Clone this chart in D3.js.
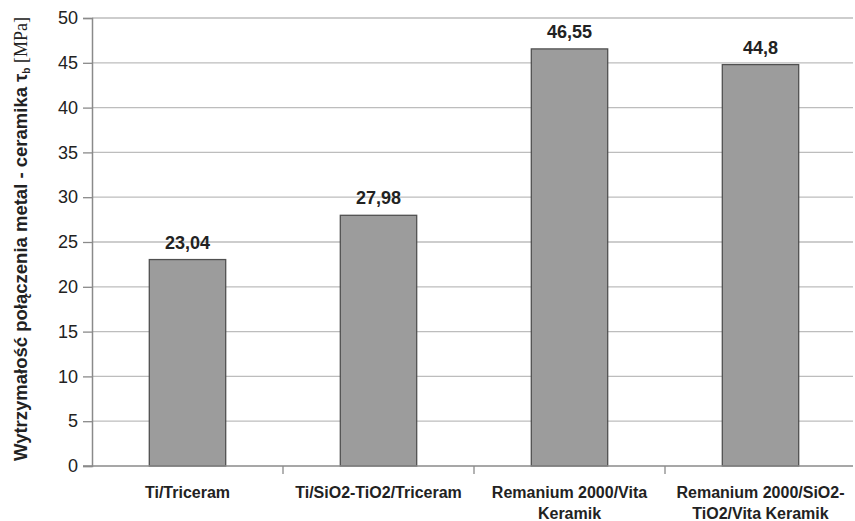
<!DOCTYPE html>
<html><head><meta charset="utf-8">
<script src="https://cdn.jsdelivr.net/npm/d3@7"></script>
<style>body{margin:0;background:#fff}svg{display:block}</style>
</head><body>
<svg id="c" width="855" height="521"></svg>
<script>
const categories = [
  ["Ti/Triceram"],
  ["Ti/SiO2-TiO2/Triceram"],
  ["Remanium 2000/Vita", "Keramik"],
  ["Remanium 2000/SiO2-", "TiO2/Vita Keramik"]
];
const values = [23.04, 27.98, 46.55, 44.8];
const valueLabels = ["23,04", "27,98", "46,55", "44,8"];
const yTicks = [0, 5, 10, 15, 20, 25, 30, 35, 40, 45, 50];

const svg = d3.select("#c");
const m = {left: 92, right: 0, top: 18, bottom: 55};
const x = d3.scaleBand().domain(d3.range(categories.length)).range([m.left, 856]).paddingInner(0.6).paddingOuter(0.3);
const xb = d3.scaleBand().domain(d3.range(categories.length)).range([m.left, 856]).padding(0);
const y = d3.scaleLinear().domain([0, 50]).range([466, 18]);

// gridlines
svg.append("g").selectAll("line").data(yTicks.filter(d => d > 0)).join("line")
  .attr("x1", m.left).attr("x2", 853)
  .attr("y1", d => y(d)).attr("y2", d => y(d))
  .attr("stroke", "#bdbdbd").attr("stroke-width", 1.3);

// y axis
const ya = svg.append("g").attr("transform", `translate(${m.left},0)`)
  .call(d3.axisLeft(y).tickValues(yTicks).tickSize(9).tickPadding(5));
ya.select(".domain").attr("stroke", "#8a8a8a").attr("stroke-width", 1.5);
ya.selectAll(".tick line").attr("stroke", "#8a8a8a").attr("stroke-width", 1.3);
ya.selectAll(".tick text").attr("font-family", "Liberation Sans, Arial, sans-serif")
  .attr("font-size", 18).attr("fill", "#222");

// bars
svg.append("g").selectAll("rect").data(values).join("rect")
  .attr("x", (d, i) => x(i)).attr("width", x.bandwidth())
  .attr("y", d => y(d)).attr("height", d => y(0) - y(d))
  .attr("fill", "#9c9c9c").attr("stroke", "#505050").attr("stroke-width", 1.3);

// x axis
const xa = svg.append("g").attr("transform", `translate(0,${y(0)})`);
xa.append("line").attr("x1", m.left - 9).attr("x2", 853).attr("y1", 0).attr("y2", 0)
  .attr("stroke", "#8a8a8a").attr("stroke-width", 1.5);
xa.selectAll("line.t").data(d3.range(1, categories.length)).join("line").attr("class", "t")
  .attr("x1", d => xb(d)).attr("x2", d => xb(d)).attr("y1", 0).attr("y2", 8)
  .attr("stroke", "#8a8a8a").attr("stroke-width", 1.3);

// category labels
const cl = svg.append("g").selectAll("text").data(categories).join("text")
  .attr("x", (d, i) => x(i) + x.bandwidth() / 2).attr("y", 498)
  .attr("text-anchor", "middle")
  .attr("font-family", "Liberation Sans, Arial, sans-serif")
  .attr("font-weight", "bold").attr("font-size", 16).attr("fill", "#222");
cl.selectAll("tspan").data(d => d).join("tspan")
  .attr("x", function() { return this.parentNode.getAttribute("x"); })
  .attr("dy", (d, i) => i === 0 ? 0 : 21).text(d => d);

// value labels
svg.append("g").selectAll("text").data(values).join("text")
  .attr("x", (d, i) => x(i) + x.bandwidth() / 2).attr("y", d => y(d) - 11)
  .attr("text-anchor", "middle")
  .attr("font-family", "Liberation Sans, Arial, sans-serif")
  .attr("font-weight", "bold").attr("font-size", 18).attr("fill", "#222")
  .text((d, i) => valueLabels[i]);

// y axis title
const yt = svg.append("text").attr("transform", "translate(27,239) rotate(-90)")
  .attr("text-anchor", "middle")
  .attr("font-family", "Liberation Sans, Arial, sans-serif")
  .attr("font-weight", "bold").attr("font-size", 18.5).attr("fill", "#222");
yt.append("tspan").text("Wytrzymałość połączenia metal - ceramika τ");
yt.append("tspan").attr("font-size", 10).attr("dy", 3).text("b");
yt.append("tspan").attr("dy", -3).attr("font-family", "Liberation Serif, Times New Roman, serif")
  .attr("font-weight", "normal").attr("font-size", 18).text(" [MPa]");
</script>
</body></html>
